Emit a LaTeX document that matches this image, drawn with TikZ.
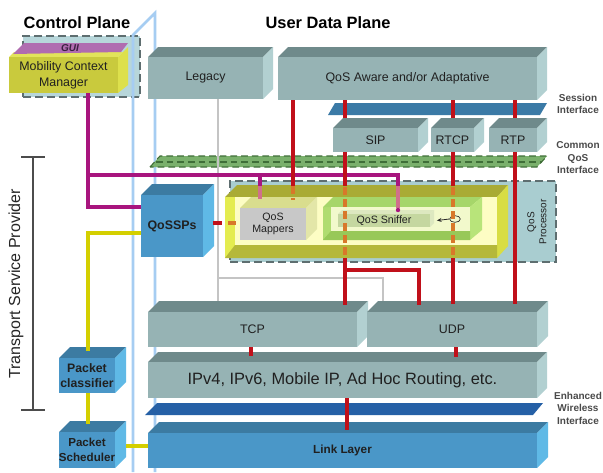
\documentclass[tikz,border=0pt]{standalone}
\usepackage{fontspec}
\setmainfont{Liberation Sans}
\usetikzlibrary{fit,shapes.geometric,arrows.meta}
\definecolor{teaF}{HTML}{96B3B4}
\definecolor{teaT}{HTML}{6F8A8B}
\definecolor{teaS}{HTML}{B2D0D1}
\definecolor{bluF}{HTML}{4A97C8}
\definecolor{bluT}{HTML}{3C7BA2}
\definecolor{bluS}{HTML}{5FB9E6}
\definecolor{mcmF}{HTML}{C9CA3D}
\definecolor{mcmT}{HTML}{E2E45A}
\definecolor{mcmS}{HTML}{DDE04C}
\definecolor{purT}{HTML}{B06CB0}
\definecolor{guic}{HTML}{3A2040}
\definecolor{ctrlf}{HTML}{B7D6DA}
\definecolor{dashc}{HTML}{5E6E70}
\definecolor{planec}{HTML}{A6CDF2}
\definecolor{sessc}{HTML}{3B7AA6}
\definecolor{enhc}{HTML}{2560A6}
\definecolor{cqf}{HTML}{7AB06C}
\definecolor{cqd}{HTML}{3F6E38}
\definecolor{procf}{HTML}{A9CDD0}
\definecolor{trayO}{HTML}{A9AB35}
\definecolor{trayS}{HTML}{D8DD44}
\definecolor{trayL}{HTML}{E4EC50}
\definecolor{trayP}{HTML}{FDFDC4}
\definecolor{trayB}{HTML}{B5B83A}
\definecolor{grnA}{HTML}{A6D66A}
\definecolor{grnB}{HTML}{B8E47A}
\definecolor{grnC}{HTML}{B0DC70}
\definecolor{grnI}{HTML}{F2F9CC}
\definecolor{grnD}{HTML}{98C858}
\definecolor{snifF}{HTML}{C5D7A0}
\definecolor{snifT}{HTML}{DDE8C0}
\definecolor{mapF}{HTML}{C8C8C8}
\definecolor{mapT}{HTML}{D9DD8E}
\definecolor{mapS}{HTML}{E3E6A8}
\definecolor{redc}{HTML}{C0101A}
\definecolor{orc}{HTML}{D8782A}
\definecolor{magc}{HTML}{A8157E}
\definecolor{maglc}{HTML}{D0708C}
\definecolor{yelc}{HTML}{D4CF00}
\definecolor{gryc}{HTML}{C4C4C4}
\definecolor{txtc}{HTML}{202020}
\definecolor{lblc}{HTML}{4A4A4A}
\newcommand\cdep{10}
\newcommand\cubefont{\fontsize{9.3}{11}\selectfont}
% #1 name #2 x1 #3 y1 #4 x2 #5 y2 #6 front #7 top #8 side #9 text
\newcommand\mycuboid[9]{%
  \fill[#7] (#2,#3) -- ({#2+\cdep},{#3-\cdep}) -- ({#4+\cdep},{#3-\cdep}) -- (#4,#3) -- cycle;
  \fill[#8] (#4,#3) -- ({#4+\cdep},{#3-\cdep}) -- ({#4+\cdep},{#5-\cdep}) -- (#4,#5) -- cycle;
  \node[fit={(#2,#3)(#4,#5)}, inner sep=0pt, fill=#6] (#1) {};
  \node[align=center, font=\cubefont, text=txtc, inner sep=0pt] (#1t) at (#1.center) {#9};
}
\tikzset{
  magl/.style={draw=magc, line width=3pt},
  magpl/.style={draw=maglc, line width=3pt},
  yell/.style={draw=yelc, line width=3pt},
  redl/.style={draw=redc, line width=3pt},
  orl/.style={draw=orc, line width=3pt, dash pattern=on 6pt off 3pt},
  gryl/.style={draw=gryc, line width=2.2pt},
  pln/.style={draw=planec, line width=2pt},
  rlbl/.style={font=\fontsize{7.5}{9.4}\selectfont\bfseries, text=lblc, align=center},
  ttl/.style={font=\fontsize{12.3}{14}\selectfont\bfseries, text=black},
}
\begin{document}
\begin{tikzpicture}[x=0.75pt,y=-0.75pt]
\useasboundingbox (0,0) rectangle (603,472);
\fill[white] (0,0) rectangle (603,472);

% titles
\node[ttl] (cptitle) at (77,23) {Control Plane};
\node[ttl] (udtitle) at (328,23) {User Data Plane};

% control plane dashed box
\node[fit={(23,36)(140,97)}, inner sep=0pt, fill=ctrlf, draw=dashc, dash pattern=on 6pt off 3pt, line width=1.1pt] (ctrl) {};

% vertical plane
\draw[pln] (133,472) -- (133,35) -- (155,13) -- (155,472);

% Mobility Context Manager
\fill[mcmS] (118,57) -- (128,47) -- (128,85) -- (118,93) -- cycle;
\fill[mcmT] (9,57) -- (14,52) -- (123,52) -- (118,57) -- cycle;
\fill[purT] (13,54) -- (24,43) -- (128,43) -- (121,52) -- cycle;
\node[fit={(9,57)(118,93)}, inner sep=0pt, fill=mcmF] (mcm) {};
\node[align=center, font=\fontsize{9.3}{12}\selectfont, text=txtc, inner sep=0pt] (mcmt) at (mcm.center) {Mobility Context\\Manager};
\node[font=\fontsize{7.5}{8}\selectfont\bfseries\itshape, text=guic] (gui) at (70,48.5) {GUI};

% application layer
\mycuboid{legacy}{148}{57}{263}{99}{teaF}{teaT}{teaS}{Legacy}
\mycuboid{qaware}{278}{57}{537}{100}{teaF}{teaT}{teaS}{QoS Aware and/or Adaptative}

% session interface
\fill[sessc] (328,115) -- (335,103) -- (547,103) -- (540,115) -- cycle;
\mycuboid{sip}{333}{128}{418}{152}{teaF}{teaT}{teaS}{SIP}
\mycuboid{rtcp}{431}{128}{474}{152}{teaF}{teaT}{teaS}{RTCP}
\mycuboid{rtp}{489}{128}{537}{152}{teaF}{teaT}{teaS}{RTP}

% common QoS interface
\fill[cqf] (150,167) -- (160,156) -- (547,156) -- (537,167) -- cycle;
\draw[cqd, dash pattern=on 5pt off 3pt, line width=0.8pt] (150,167) -- (160,156) -- (547,156) -- (537,167) -- cycle;
\draw[cqd, dash pattern=on 5pt off 3pt, line width=0.8pt] (156,162) -- (542,162);

% gray legacy path
\draw[gryl] (legacy.south -| 218,0) -- (218,302);
\draw[gryl] (218,278) -- (383,278) -- (383,302);

% QoS processor
\node[fit={(230,181)(556,262)}, inner sep=0pt, fill=procf, draw=dashc, dash pattern=on 6pt off 3pt, line width=1.1pt] (qproc) {};
\node[rotate=90, align=center, font=\fontsize{7.5}{9}\selectfont, text=txtc] (qproclbl) at (537,222) {QoS\\Processor};
% yellow tray
\fill[trayO] (225,197) -- (237,185) -- (508,185) -- (497,197) -- cycle;
\fill[trayS] (497,197) -- (508,185) -- (508,246) -- (497,258) -- cycle;
\fill[trayL] (225,197) rectangle (497,258);
\fill[trayP] (235,197) rectangle (497,245);
\fill[trayB] (225,258) -- (235,245) -- (497,245) -- (497,258) -- cycle;
% mappers
\renewcommand\cdep{11}
\renewcommand\cubefont{\fontsize{8}{9.5}\selectfont}
\mycuboid{mappers}{240}{208}{306}{240}{mapF}{mapT}{mapS}{QoS\\Mappers}
% green tray
\fill[grnC] (323,207) rectangle (470,240);
\fill[grnA] (323,207) -- (333,197) -- (482,197) -- (470,207) -- cycle;
\fill[grnB] (470,207) -- (482,197) -- (482,230) -- (470,240) -- cycle;
\fill[grnI] (331,207) rectangle (470,231);
\fill[grnD] (323,240) -- (331,231) -- (470,231) -- (470,240) -- cycle;
% sniffer
\renewcommand\cdep{4}
\mycuboid{sniffer}{338}{214}{430}{227}{snifF}{snifT}{snifT}{QoS Sniffer}
\node[ellipse, draw=black!85, line width=0.5pt, minimum width=8pt, minimum height=5pt, inner sep=0pt] (tap) at (455,219) {};

% QoSSPs
\renewcommand\cdep{11}
\renewcommand\cubefont{\fontsize{9.3}{11}\selectfont\bfseries}
\mycuboid{qossps}{141}{195}{203}{257}{bluF}{bluT}{bluS}{QoSSPs}

% transport / network / link
\renewcommand\cubefont{\fontsize{9.3}{11}\selectfont}
\mycuboid{tcp}{148}{312}{357}{347}{teaF}{teaT}{teaS}{TCP}
\mycuboid{udp}{367}{312}{537}{347}{teaF}{teaT}{teaS}{UDP}
\renewcommand\cdep{10}
\renewcommand\cubefont{\fontsize{12.3}{14}\selectfont}
\mycuboid{ip}{148}{362}{537}{398}{teaF}{teaT}{teaS}{IPv4, IPv6, Mobile IP, Ad Hoc Routing, etc.}
\fill[enhc] (145,415) -- (157,403) -- (543,403) -- (533,415) -- cycle;
\renewcommand\cdep{11}
\renewcommand\cubefont{\fontsize{8.8}{11}\selectfont\bfseries}
\mycuboid{link}{148}{433}{537}{468}{bluF}{bluT}{bluS}{Link Layer}

% packet classifier / scheduler
\renewcommand\cubefont{\fontsize{9.2}{11.5}\selectfont\bfseries}
\mycuboid{pcl}{59}{358}{115}{393}{bluF}{bluT}{bluS}{Packet\\classifier}
\renewcommand\cubefont{\fontsize{8.7}{11}\selectfont\bfseries}
\mycuboid{psch}{59}{432}{115}{468}{bluF}{bluT}{bluS}{Packet\\Scheduler}

% ---- connectors ----
% magenta
\coordinate (mj) at (88,175);
\coordinate (mk) at (88,207);
\draw[magl] (mcm.south -| mj) -- (mk) -- (qossps.west |- mk);
\draw[magl] (mj) -- (398,175) -- (398,186);
\draw[magpl] (398,186) -- (398,208);
\fill[magc] (398,210) circle [radius=2.2];
\draw[magl] (260,175) -- (260,186);
\draw[magpl] (260,186) -- (260,199);
% yellow
\coordinate (yj) at (88,233);
\draw[yell] (qossps.west |- yj) -- (yj) -- (88,351);
\draw[yell] (pcl.south -| yj) -- (88,424);
\draw[yell] (126,446) -- (link.west |- 0,446);
% red
\draw[redl] (qaware.south -| 293,0) -- (293,186);
\draw[orl] (293,186) -- (293,200);
\draw[redl] (qaware.south -| 345,0) -- (345,118);
\draw[redl] (sip.south -| 345,0) -- (345,186);
\draw[orl] (345,187) -- (345,258);
\draw[redl] (345,258) -- (345,305);
\draw[redl] (345,270) -- (419,270) -- (419,305);
\draw[redl] (qaware.south -| 453,0) -- (453,118);
\draw[redl] (rtcp.south -| 453,0) -- (453,186);
\draw[orl] (453,187) -- (453,258);
\draw[redl] (453,258) -- (453,304);
\draw[redl] (qaware.south -| 515,0) -- (515,118);
\draw[redl] (rtp.south -| 515,0) -- (515,304);
\draw[redl] (tcp.south -| 251,0) -- (251,356);
\draw[redl] (udp.south -| 456,0) -- (456,357);
\draw[redl] (ip.south -| 347,0) -- (347,430);
\draw[redl, dash pattern=on 7pt off 3pt] (213,223) -- (226,223);
\draw[orl] (228,223) -- (mappers.west |- 0,223);
% sniffer tap
\draw[black!85, line width=0.6pt, -{Stealth[length=3.5pt,width=3pt]}] (tap.west) -- ([xshift=5pt]sniffer.east);

% bracket
\draw[black!70, line width=1.1pt] (21,157) -- (45,157) (33,157) -- (33,410) (21,410) -- (45,410);
\node[rotate=90, font=\fontsize{12}{14}\selectfont, text=black!85] (tsp) at (16,284) {Transport Service Provider};

% right labels
\node[rlbl] (sessl) at (578,104) {Session\\Interface};
\node[rlbl] (cqil) at (578,158) {Common\\QoS\\Interface};
\node[rlbl] (ewil) at (578,408) {Enhanced\\Wireless\\Interface};
\end{tikzpicture}
\end{document}
